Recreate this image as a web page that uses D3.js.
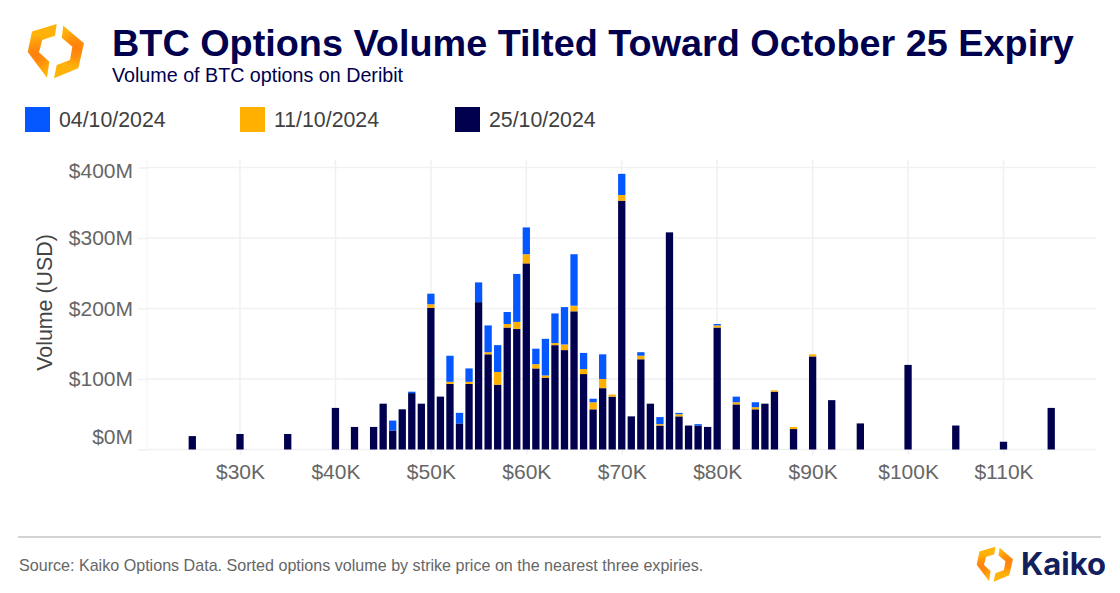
<!DOCTYPE html>
<html>
<head>
<meta charset="utf-8">
<script src="https://cdn.jsdelivr.net/npm/d3@7"></script>
<style>
  html, body { margin: 0; padding: 0; background: #fff; }
  svg { display: block; font-family: "Liberation Sans", Arial, sans-serif; }
</style>
</head>
<body>
<svg id="chart" width="1120" height="593"></svg>
<script>
// Data (USD millions)
const strikes = [25, 30, 35, 40, 42, 44, 45, 46, 47, 48, 49, 50, 51, 52, 53, 54, 55, 56, 57, 58, 59, 60, 61, 62, 63, 64, 65, 66, 67, 68, 69, 70, 71, 72, 73, 74, 75, 76, 77, 78, 79, 80, 82, 84, 85, 86, 88, 90, 92, 95, 100, 105, 110, 115]
const oct25 = [19, 22, 22, 59, 32, 32, 65, 27, 57, 80, 65, 201, 75, 93, 37, 93, 209, 135, 92, 173, 171, 264, 115, 102, 148, 141, 196, 107, 57, 87, 75, 353, 47, 128, 65, 34, 308, 47, 34, 34, 32, 173, 64, 57, 65, 82, 29, 132, 70, 37, 120, 34, 11, 59]
const oct11 = [0, 0, 0, 0, 0, 0, 0, 0, 0, 0, 0, 5, 0, 3, 0, 3, 0, 3, 18, 5, 10, 13, 6, 3, 3, 8, 8, 7, 10, 13, 3, 8, 0, 5, 0, 2, 0, 3, 0, 0, 0, 3, 3, 3, 0, 2, 3, 3, 0, 0, 0, 0, 0, 0]
const oct04 = [0, 0, 0, 0, 0, 0, 0, 14, 0, 2, 0, 15, 0, 37, 15, 19, 28, 38, 38, 17, 68, 38, 22, 52, 42, 53, 73, 23, 5, 35, 0, 30, 0, 5, 0, 10, 0, 2, 0, 2, 0, 2, 8, 7, 0, 0, 0, 0, 0, 0, 0, 0, 0, 0]
const seriesKeys = ["oct25", "oct11", "oct04"]
const seriesColors = { oct25: "#00004f", oct11: "#ffb000", oct04: "#0558ff" }
const legendLabels = ["04/10/2024", "11/10/2024", "25/10/2024"]
const legendColors = ["#0558ff", "#ffb000", "#00004f"]
const xTicks = [30, 40, 50, 60, 70, 80, 90, 100, 110]
const yTicks = [0, 100, 200, 300, 400]

const rows = strikes.map((s, i) => ({ strike: s, oct25: oct25[i], oct11: oct11[i], oct04: oct04[i] }))

const svg = d3.select("#chart")
const navy = "#00004f"
const gridColor = "#f1f1f3"

// Scales
const x = d3.scaleLinear().domain([30, 110]).range([240, 1003.5])
const y = d3.scaleLinear().domain([0, 400]).range([449.5, 167.5])
const barW = 7.3

// Grid
const grid = svg.append("g").attr("stroke", gridColor).attr("stroke-width", 1.6)
grid.selectAll("line.h").data(yTicks).enter().append("line")
  .attr("x1", 147).attr("x2", 1096)
  .attr("y1", d => y(d)).attr("y2", d => y(d))
grid.selectAll("line.v").data(xTicks).enter().append("line")
  .attr("x1", d => x(d)).attr("x2", d => x(d))
  .attr("y1", 160).attr("y2", 449.5)
grid.append("line").attr("x1", 147).attr("x2", 147).attr("y1", 160).attr("y2", 449.5)
  .attr("stroke-opacity", 0.6)

// Axes
const xAxis = d3.axisBottom(x).tickValues(xTicks).tickFormat(d => `$${d}K`).tickSize(5).tickPadding(10)
const yAxis = d3.axisLeft(y).tickValues(yTicks).tickFormat(d => `$${d}M`).tickSize(9).tickPadding(5)
const gx = svg.append("g").attr("transform", "translate(0,449.5)").call(xAxis)
const gy = svg.append("g").attr("transform", "translate(147,0)").call(yAxis)
for (const g of [gx, gy]) {
  g.select(".domain").remove()
  g.selectAll("line").attr("stroke", gridColor).attr("stroke-width", 1.6)
  g.selectAll("text").attr("fill", "#666666").attr("font-size", 21).attr("font-family", "Liberation Sans")
}
// top and bottom labels are nudged inside the plot in the original
gy.selectAll(".tick text").attr("transform", d => `translate(0,${d === 0 ? -12.5 : d === 400 ? 3 : 0})`)

svg.append("text")
  .attr("transform", "translate(52,302.5) rotate(-90)")
  .attr("text-anchor", "middle")
  .attr("font-size", 21.4).attr("fill", "#444444")
  .text("Volume (USD)")

// Bars
const stacked = d3.stack().keys(seriesKeys)(rows)
svg.append("g").selectAll("g").data(stacked).enter().append("g")
  .attr("fill", d => seriesColors[d.key])
  .selectAll("rect").data(d => d.filter(p => p[1] > p[0])).enter().append("rect")
  .attr("x", d => x(d.data.strike) - barW / 2)
  .attr("width", barW)
  .attr("y", d => y(d[1]))
  .attr("height", d => y(d[0]) - y(d[1]))

// Title
svg.append("text").attr("x", 112).attr("y", 55.5)
  .attr("font-size", 37.8).attr("font-weight", "bold").attr("fill", navy)
  .text("BTC Options Volume Tilted Toward October 25 Expiry")
svg.append("text").attr("x", 112).attr("y", 82)
  .attr("font-size", 19.7).attr("fill", navy)
  .text("Volume of BTC options on Deribit")

// Legend
const legendX = d3.scalePoint().domain(legendLabels).range([25, 455])
const legend = svg.append("g").selectAll("g").data(legendLabels).enter().append("g")
  .attr("transform", d => `translate(${legendX(d)},107)`)
legend.append("rect").attr("width", 25).attr("height", 25)
  .attr("fill", (d, i) => legendColors[i])
legend.append("text").attr("x", 34).attr("y", 20)
  .attr("font-size", 21.3).attr("fill", "#404040")
  .text(d => d)

// Logo, two folded halves with a darker fold
const defs = svg.append("defs")
function foldGradient(id, cx, cy) {
  const g = defs.append("radialGradient").attr("id", id)
    .attr("gradientUnits", "userSpaceOnUse")
    .attr("cx", cx).attr("cy", cy).attr("r", 20)
  g.append("stop").attr("offset", "0%").attr("stop-color", "#ff7f0e")
  g.append("stop").attr("offset", "45%").attr("stop-color", "#ff8f0c")
  g.append("stop").attr("offset", "100%").attr("stop-color", "#ffb30a")
}
foldGradient("logoLeft", 36, 55)
foldGradient("logoRight", 76, 48)

function drawLogo(parent, tx, ty, k) {
  const g = parent.append("g").attr("transform", `translate(${tx},${ty}) scale(${k})`)
  g.append("path").attr("fill", "url(#logoLeft)")
    .attr("d", "M56.7,24 L32,31.5 L27.7,52 L47,77.7 L49.3,61.7 L39,52.3 L42.3,40 L55,35.7 Z")
  g.append("path").attr("fill", "url(#logoRight)")
    .attr("d", "M63.3,25.7 L84,43.3 L78.3,68.3 L54,78.3 L56.7,65 L70,60 L72.3,46.7 L61.7,37.7 Z")
}
drawLogo(svg, 0, 0, 1)
drawLogo(svg, 958.8, 531.2, 0.645)

// Footer
svg.append("line").attr("x1", 18).attr("x2", 1101).attr("y1", 537).attr("y2", 537)
  .attr("stroke", "#c4c4c4").attr("stroke-width", 1.3)
svg.append("text").attr("x", 19).attr("y", 571)
  .attr("font-size", 16.1).attr("fill", "#666666")
  .text("Source: Kaiko Options Data. Sorted options volume by strike price on the nearest three expiries.")
svg.append("text").attr("x", 1021).attr("y", 574.5)
  .attr("font-family", "Inter").attr("font-size", 31).attr("font-weight", 700).attr("fill", "#12205e")
  .text("Kaiko")
</script>
</body>
</html>
